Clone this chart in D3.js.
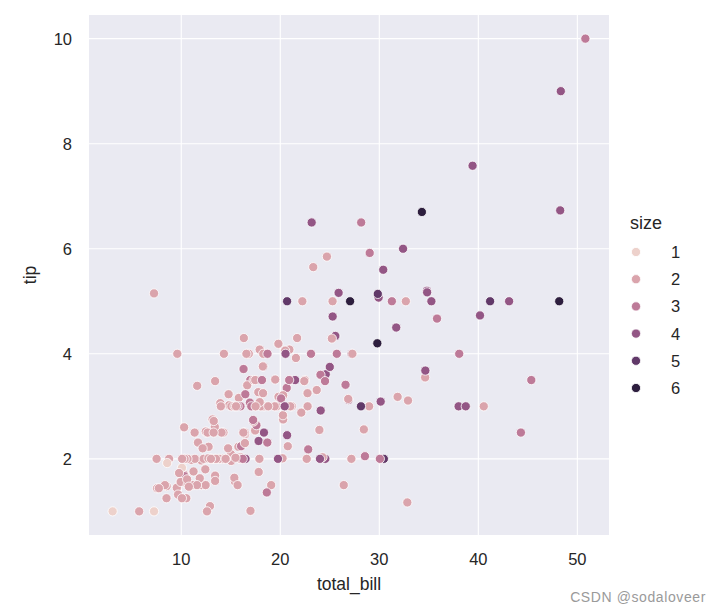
<!DOCTYPE html>
<html>
<head>
<meta charset="utf-8">
<script src="https://cdn.jsdelivr.net/npm/d3@7"></script>
<style>
  body { margin: 0; background: #fff; }
  svg { display: block; font-family: "Liberation Sans", Arial, sans-serif; }
</style>
</head>
<body>
<svg id="chart" width="722" height="612"></svg>
<script>
// tips dataset: total_bill, tip, size
const totalBill = [16.99,10.34,21.01,23.68,24.59,25.29,8.77,26.88,15.04,14.78,10.27,35.26,15.42,18.43,14.83,21.58,10.33,16.29,16.97,20.65,17.92,20.29,15.77,39.42,19.82,17.81,13.37,12.69,21.7,19.65,9.55,18.35,15.06,20.69,17.78,24.06,16.31,16.93,18.69,31.27,16.04,17.46,13.94,9.68,30.4,18.29,22.23,32.4,28.55,18.04,12.54,10.29,34.81,9.94,25.56,19.49,38.01,26.41,11.24,48.27,20.29,13.81,11.02,18.29,17.59,20.08,16.45,3.07,20.23,15.01,12.02,17.07,26.86,25.28,14.73,10.51,17.92,27.2,22.76,17.29,19.44,16.66,10.07,32.68,15.98,34.83,13.03,18.28,24.71,21.16,28.97,22.49,5.75,16.32,22.75,40.17,27.28,12.03,21.01,12.46,11.35,15.38,44.3,22.42,20.92,15.36,20.49,25.21,18.24,14.31,14.0,7.25,38.07,23.95,25.71,17.31,29.93,10.65,12.43,24.08,11.69,13.42,14.26,15.95,12.48,29.8,8.52,14.52,11.38,22.82,19.08,20.27,11.17,12.26,18.26,8.51,10.33,14.15,16.0,13.16,17.47,34.3,41.19,27.05,16.43,8.35,18.64,11.87,9.78,7.51,14.07,13.13,17.26,24.55,19.77,29.85,48.17,25.0,13.39,16.49,21.5,12.66,16.21,13.81,17.51,24.52,20.76,31.71,10.59,10.63,50.81,15.81,7.25,31.85,16.82,32.9,17.89,14.48,9.6,34.63,34.65,23.33,45.35,23.17,40.55,20.69,20.9,30.46,18.15,23.1,15.69,19.81,28.44,15.48,16.58,7.56,10.34,43.11,13.0,13.51,18.71,12.74,13.0,16.4,20.53,16.47,26.59,38.73,24.27,12.76,30.06,25.89,48.33,13.27,28.17,12.9,28.15,11.59,7.74,30.14,12.16,13.42,8.58,15.98,13.42,16.27,10.09,20.45,13.28,22.12,24.01,15.69,11.61,10.77,15.53,10.07,12.6,32.83,35.83,29.03,27.18,22.67,17.82,18.78];
const tip = [1.01,1.66,3.5,3.31,3.61,4.71,2.0,3.12,1.96,3.23,1.71,5.0,1.57,3.0,3.02,3.92,1.67,3.71,3.5,3.35,4.08,2.75,2.23,7.58,3.18,2.34,2.0,2.0,4.3,3.0,1.45,2.5,3.0,2.45,3.27,3.6,2.0,3.07,2.31,5.0,2.24,2.54,3.06,1.32,5.6,3.0,5.0,6.0,2.05,3.0,2.5,2.6,5.2,1.56,4.34,3.51,3.0,1.5,1.76,6.73,3.21,2.0,1.98,3.76,2.64,3.15,2.47,1.0,2.01,2.09,1.97,3.0,3.14,5.0,2.2,1.25,3.08,4.0,3.0,2.71,3.0,3.4,1.83,5.0,2.03,5.17,2.0,4.0,5.85,3.0,3.0,3.5,1.0,4.3,3.25,4.73,4.0,1.5,3.0,1.5,2.5,3.0,2.5,3.48,4.08,1.64,4.06,4.29,3.76,4.0,3.0,1.0,4.0,2.55,4.0,3.5,5.07,1.5,1.8,2.92,2.31,1.68,2.5,2.0,2.52,4.2,1.48,2.0,2.0,2.18,1.5,2.83,1.5,2.0,3.25,1.25,2.0,2.0,2.0,2.75,3.5,6.7,5.0,5.0,2.3,1.5,1.36,1.63,1.73,2.0,2.5,2.0,2.74,2.0,2.0,5.14,5.0,3.75,2.61,2.0,3.5,2.5,2.0,2.0,3.0,3.48,2.24,4.5,1.61,2.0,10.0,3.16,5.15,3.18,4.0,3.11,2.0,2.0,4.0,3.55,3.68,5.65,3.5,6.5,3.0,5.0,3.5,2.0,3.5,4.0,1.5,4.19,2.56,2.02,4.0,1.44,2.0,5.0,2.0,2.0,4.0,2.01,2.0,2.5,4.0,3.23,3.41,3.0,2.03,2.23,2.0,5.16,9.0,2.5,6.5,1.1,3.0,1.5,1.44,3.09,2.2,3.48,1.92,3.0,1.58,2.5,2.0,3.0,2.72,2.88,2.0,3.0,3.39,1.47,3.0,1.25,1.0,1.17,4.67,5.92,2.0,2.0,1.75,3.0];
const partySize = [2,3,3,2,4,4,2,4,2,2,2,4,2,4,2,2,3,3,3,3,2,2,2,4,2,4,2,2,2,2,2,4,2,4,2,3,3,3,3,3,3,2,2,2,4,2,2,4,3,2,2,2,4,2,4,2,4,2,2,4,2,2,2,4,3,3,2,1,2,2,2,3,2,2,2,2,2,4,2,2,2,2,1,2,2,4,2,2,2,2,2,2,2,2,2,4,2,2,2,2,2,2,3,2,2,2,2,2,2,2,2,1,3,2,3,2,4,2,2,4,2,2,2,2,2,6,2,2,2,3,2,2,2,2,2,2,2,2,2,2,2,6,5,6,2,2,3,2,2,2,2,2,3,4,4,5,6,4,2,4,4,2,3,2,2,3,2,4,2,2,3,2,2,2,2,2,2,2,2,2,4,2,3,4,2,5,3,5,3,3,2,2,2,2,2,2,2,4,2,2,3,2,2,2,4,3,3,4,2,2,3,4,4,2,3,2,5,2,2,4,2,2,1,3,2,2,2,4,2,2,4,3,2,2,2,2,2,2,3,3,2,2,2,2];

const xTicks = [10, 20, 30, 40, 50];
const yTicks = [2, 4, 6, 8, 10];
const legendLevels = [1, 2, 3, 4, 5, 6];

const W = 722, H = 612;
const plot = {left: 89, right: 609, top: 15, bottom: 535};

const svg = d3.select("#chart");

// matplotlib-style 5% margins
const xExt = d3.extent(totalBill), yExt = d3.extent(tip);
const xPad = (xExt[1] - xExt[0]) * 0.05, yPad = (yExt[1] - yExt[0]) * 0.05;

const x = d3.scaleLinear()
  .domain([xExt[0] - xPad, xExt[1] + xPad])
  .range([plot.left, plot.right]);

const y = d3.scaleLinear()
  .domain([yExt[0] - yPad, yExt[1] + yPad])
  .range([plot.bottom, plot.top]);

/** seaborn "ch:" cubehelix colormap
------------------------------------------------------------*/
function cubehelix(v) {
  const start = 0, rot = 0.4, gamma = 1, hue = 0.8;
  const xg = Math.pow(v, gamma);
  const a = hue * xg * (1 - xg) / 2;
  const phi = 2 * Math.PI * (start / 3 + rot * v);
  const c = (p0, p1) => Math.max(0, Math.min(1, xg + a * (p0 * Math.cos(phi) + p1 * Math.sin(phi))));
  return d3.rgb(
    255 * c(-0.14861, 1.78277),
    255 * c(-0.29227, -0.90649),
    255 * c(1.97294, 0)
  ).formatHex();
}

const sizeNorm = d3.scaleLinear().domain(d3.extent(partySize)).range([0.85, 0.15]);
const color = (s) => cubehelix(sizeNorm(s));

/** Axes background and grid
------------------------------------------------------------*/
svg.append("rect")
  .attr("x", plot.left)
  .attr("y", plot.top)
  .attr("width", plot.right - plot.left)
  .attr("height", plot.bottom - plot.top)
  .attr("fill", "#eaeaf2");

const grid = svg.append("g");

grid.selectAll("line.gx")
  .data(xTicks)
  .enter().append("line")
  .attr("x1", d => x(d)).attr("x2", d => x(d))
  .attr("y1", plot.top).attr("y2", plot.bottom)
  .attr("stroke", "#fff")
  .attr("stroke-width", 1.1);

grid.selectAll("line.gy")
  .data(yTicks)
  .enter().append("line")
  .attr("y1", d => y(d)).attr("y2", d => y(d))
  .attr("x1", plot.left).attr("x2", plot.right)
  .attr("stroke", "#fff")
  .attr("stroke-width", 1.1);

/** Tick labels
------------------------------------------------------------*/
svg.append("g")
  .selectAll("text")
  .data(xTicks)
  .enter().append("text")
  .attr("x", d => x(d))
  .attr("y", 565)
  .attr("text-anchor", "middle")
  .attr("font-size", 16.5)
  .attr("fill", "#262626")
  .text(d => d);

svg.append("g")
  .selectAll("text")
  .data(yTicks)
  .enter().append("text")
  .attr("x", 72)
  .attr("y", d => y(d))
  .attr("dy", "0.36em")
  .attr("text-anchor", "end")
  .attr("font-size", 16.5)
  .attr("fill", "#262626")
  .text(d => d);

svg.append("text")
  .attr("x", (plot.left + plot.right) / 2)
  .attr("y", 590)
  .attr("text-anchor", "middle")
  .attr("font-size", 17.5)
  .attr("fill", "#262626")
  .text("total_bill");

svg.append("text")
  .attr("transform", "translate(36," + ((plot.top + plot.bottom) / 2) + ") rotate(-90)")
  .attr("text-anchor", "middle")
  .attr("font-size", 17.5)
  .attr("fill", "#262626")
  .text("tip");

/** Points
------------------------------------------------------------*/
const points = totalBill.map((b, i) => ({bill: b, tip: tip[i], size: partySize[i]}));

svg.append("g")
  .selectAll("circle")
  .data(points)
  .enter().append("circle")
  .attr("cx", d => x(d.bill))
  .attr("cy", d => y(d.tip))
  .attr("r", 4.6)
  .attr("fill", d => color(d.size))
  .attr("stroke", "#fff")
  .attr("stroke-width", 0.8);

/** Legend
------------------------------------------------------------*/
const legend = svg.append("g");

legend.append("text")
  .attr("x", 630)
  .attr("y", 229)
  .attr("font-size", 18)
  .attr("fill", "#262626")
  .text("size");

const legendY = d3.scalePoint().domain(legendLevels).range([252, 388]);

legend.selectAll("circle")
  .data(legendLevels)
  .enter().append("circle")
  .attr("cx", 636)
  .attr("cy", d => legendY(d))
  .attr("r", 4.6)
  .attr("fill", d => color(d))
  .attr("stroke", "#fff")
  .attr("stroke-width", 0.8);

legend.selectAll("text.lab")
  .data(legendLevels)
  .enter().append("text")
  .attr("class", "lab")
  .attr("x", 671)
  .attr("y", d => legendY(d))
  .attr("dy", "0.36em")
  .attr("font-size", 16.5)
  .attr("fill", "#262626")
  .text(d => d);

// watermark
svg.append("text")
  .attr("x", 706)
  .attr("y", 602)
  .attr("text-anchor", "end")
  .attr("font-size", 14)
  .attr("letter-spacing", 0.6)
  .attr("fill", "#9a9a9a")
  .text("CSDN @sodaloveer");
</script>
</body>
</html>
